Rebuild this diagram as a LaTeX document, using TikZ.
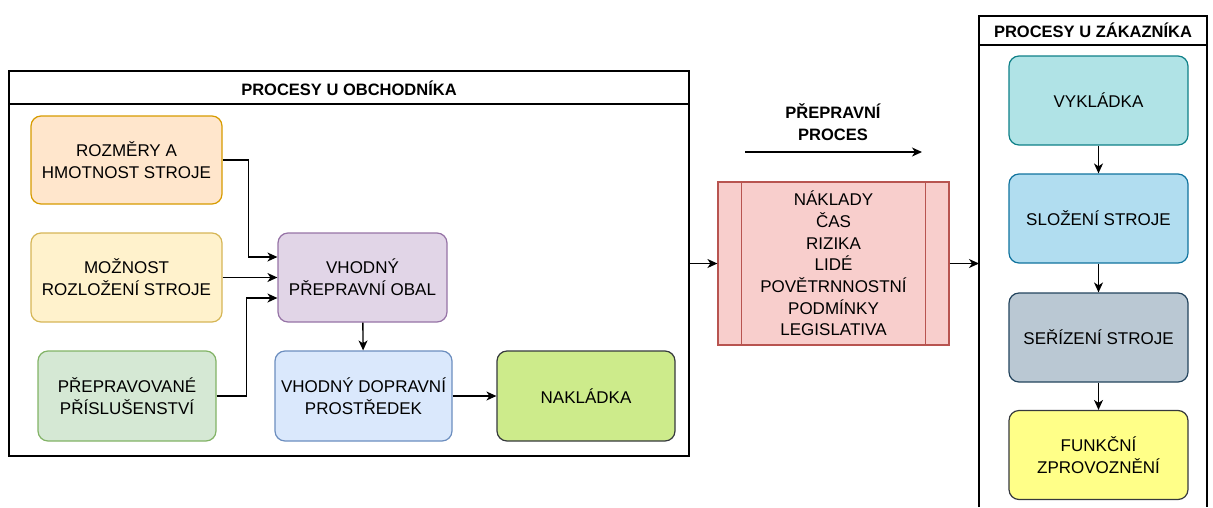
\documentclass[tikz,border=0pt]{standalone}
\usepackage{fontspec}
\setmainfont{Liberation Sans}
\usetikzlibrary{calc}
\usetikzlibrary{arrows.meta}

\definecolor{rozfill}{HTML}{FFE6CC}\definecolor{rozline}{HTML}{D79B00}
\definecolor{mozfill}{HTML}{FFF2CC}\definecolor{mozline}{HTML}{D6B656}
\definecolor{prifill}{HTML}{D5E8D4}\definecolor{priline}{HTML}{82B366}
\definecolor{obafill}{HTML}{E1D5E7}\definecolor{obaline}{HTML}{9673A6}
\definecolor{profill}{HTML}{DAE8FC}\definecolor{proline}{HTML}{6C8EBF}
\definecolor{nakfill}{HTML}{CDEB8B}\definecolor{nakline}{HTML}{36393D}
\definecolor{redfill}{HTML}{F8CECC}\definecolor{redline}{HTML}{B85450}
\definecolor{vykfill}{HTML}{B0E3E6}\definecolor{vykline}{HTML}{0E8088}
\definecolor{slofill}{HTML}{B1DDF0}\definecolor{sloline}{HTML}{10739E}
\definecolor{serfill}{HTML}{BAC8D3}\definecolor{serline}{HTML}{23445D}
\definecolor{funfill}{HTML}{FFFF88}\definecolor{funline}{HTML}{36393D}

\begin{document}
\begin{tikzpicture}[x=1pt, y=-1pt, font=\fontsize{17}{22}\selectfont,
	>={Stealth[length=10pt,width=9pt,inset=3pt]},
	box/.style={draw, rounded corners=10pt, line width=1.2pt, align=center, inner sep=0pt},
	frame/.style={draw, line width=1.4pt},
	link/.style={->, line width=1.4pt},
	tit/.style={font=\fontsize{16.5}{22}\selectfont\bfseries, align=center}]
	\useasboundingbox (0,0) rectangle (1213,507);
	% obchodnik
	\node[frame, minimum width=680, minimum height=385, inner sep=0pt] (obchod) at (349,263.5) {};
	\draw[frame] (9,104) -- (689,104);
	\node[tit] (obchodtit) at (349,88) {PROCESY U OBCHODNÍKA};
	\node[box, fill=rozfill, draw=rozline, minimum width=191, minimum height=88] (rozmery) at (126.5,160) {ROZMĚRY A\\HMOTNOST STROJE};
	\node[box, fill=mozfill, draw=mozline, minimum width=191, minimum height=89] (moznost) at (126.5,277.5) {MOŽNOST\\ROZLOŽENÍ STROJE};
	\node[box, fill=prifill, draw=priline, minimum width=178, minimum height=90] (prislus) at (127,396) {PŘEPRAVOVANÉ\\PŘÍSLUŠENSTVÍ};
	\node[box, fill=obafill, draw=obaline, minimum width=169, minimum height=89] (obal) at (362.5,277.5) {VHODNÝ\\PŘEPRAVNÍ OBAL};
	\node[box, fill=profill, draw=proline, minimum width=177, minimum height=90] (prostr) at (363.5,396) {VHODNÝ DOPRAVNÍ\\PROSTŘEDEK};
	\node[box, fill=nakfill, draw=nakline, minimum width=178, minimum height=90] (naklad) at (586,396) {NAKLÁDKA};
	\draw[link] (rozmery.east) -- ++(26,0) |- ($(obal.west)+(0,-20.5)$);
	\draw[link] (moznost.east) -- (obal.west);
	\draw[link] (prislus.east) -- ++(30,0) |- ($(obal.west)+(0,20.5)$);
	\draw[link] (obal) -- (prostr);
	\draw[link] (prostr) -- (naklad);
	% preprava
	\node[tit] (preptit) at (833,122) {PŘEPRAVNÍ\\PROCES};
	\coordinate (smerA) at (745,152);
	\coordinate (smerB) at (922,152);
	\draw[link] (smerA) -- (smerB);
	\node[box, rounded corners=0pt, fill=redfill, draw=redline, minimum width=231, minimum height=163, font=\fontsize{17}{21.7}\selectfont] (rizika) at (833.5,263.5)
		{NÁKLADY\\ČAS\\RIZIKA\\LIDÉ\\POVĚTRNNOSTNÍ\\PODMÍNKY\\LEGISLATIVA};
	\draw[redline, line width=1.2pt] ([xshift=24pt]rizika.north west) -- ([xshift=24pt]rizika.south west);
	\draw[redline, line width=1.2pt] ([xshift=-24pt]rizika.north east) -- ([xshift=-24pt]rizika.south east);
	\draw[link] (obchod.east) -- (rizika.west);
	% zakaznik
	\draw[frame] (979,507) -- (979,16) -- (1207,16) -- (1207,507);
	\draw[frame] (979,45) -- (1207,45);
	\node[tit] (zaktit) at (1093,30.5) {PROCESY U ZÁKAZNÍKA};
	\coordinate (zakin) at (979,263.5);
	\draw[link] (rizika.east) -- (zakin);
	\foreach \nm/\yy/\fc/\dc/\txt in {vyk/100.5/vykfill/vykline/VYKLÁDKA,
		slo/218.5/slofill/sloline/SLOŽENÍ STROJE,
		ser/337.5/serfill/serline/SEŘÍZENÍ STROJE,
		fun/455/funfill/funline/FUNKČNÍ\\ZPROVOZNĚNÍ}
		\node[box, fill=\fc, draw=\dc, minimum width=179, minimum height=89] (\nm) at (1098.5,\yy) {\txt};
	\foreach \a/\b in {vyk/slo,slo/ser,ser/fun}
		\draw[link] (\a) -- (\b);
\end{tikzpicture}
\end{document}
